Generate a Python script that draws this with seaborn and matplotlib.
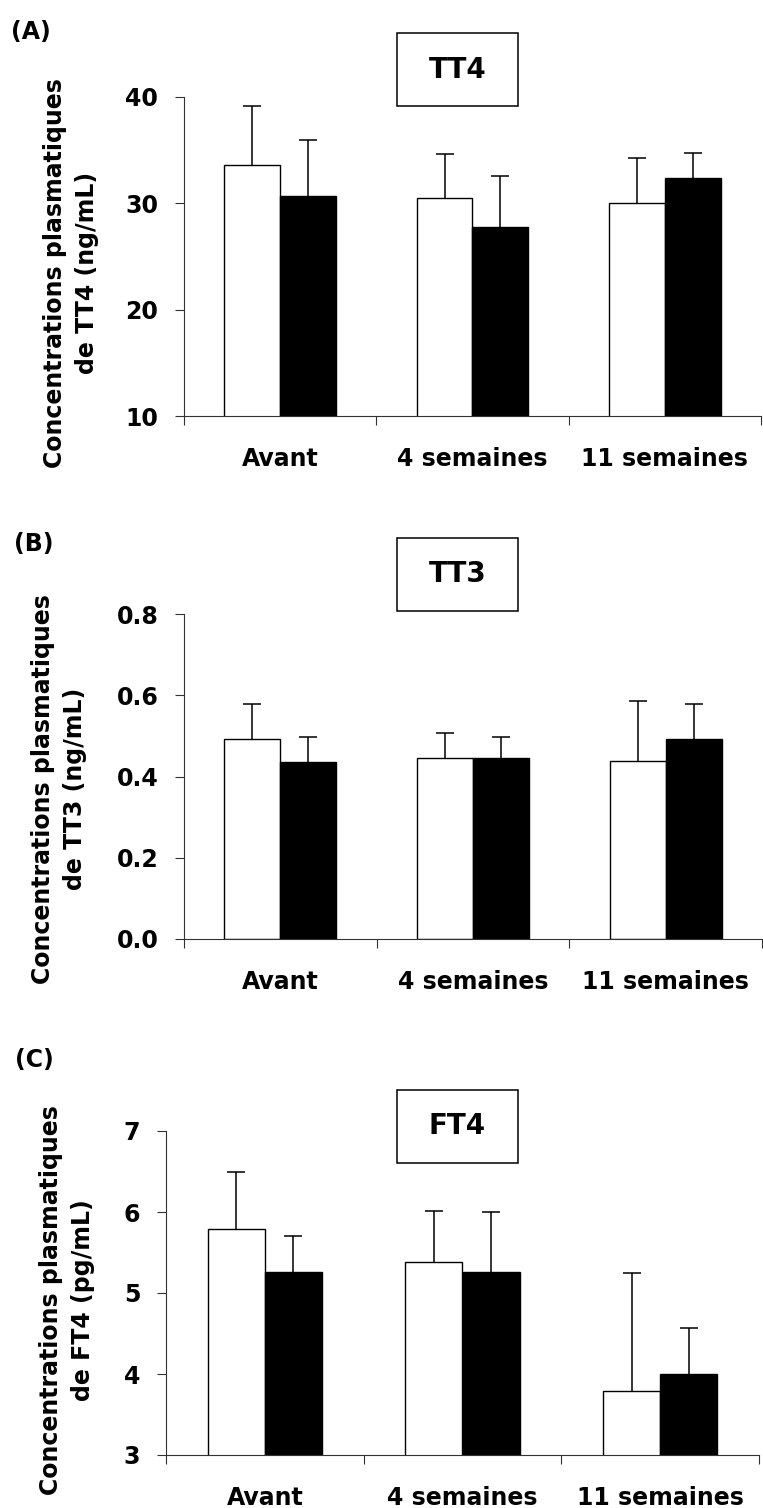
import numpy as np
import pandas as pd
import matplotlib
matplotlib.use("Agg")
import matplotlib.pyplot as plt
import seaborn as sns
from matplotlib.patches import Rectangle
from matplotlib.ticker import FixedLocator, FormatStrFormatter

# ---------------- data ----------------
periods = ["Avant", "4 semaines", "11 semaines"]
groups = ["Groupe 1", "Groupe 2"]

tt4_white = [33.6, 30.5, 30.0]
tt4_black = [30.7, 27.8, 32.4]
tt4_white_sd = [5.6, 4.1, 4.3]
tt4_black_sd = [5.3, 4.8, 2.35]

tt3_white = [0.492, 0.446, 0.438]
tt3_black = [0.436, 0.446, 0.492]
tt3_white_sd = [0.086, 0.062, 0.148]
tt3_black_sd = [0.061, 0.052, 0.086]

ft4_white = [5.79, 5.38, 3.79]
ft4_black = [5.26, 5.26, 4.00]
ft4_white_sd = [0.70, 0.63, 1.46]
ft4_black_sd = [0.44, 0.74, 0.57]

panel_letters = ["(A)", "(B)", "(C)"]
panel_titles = ["TT4", "TT3", "FT4"]
ylabels = ["Concentrations plasmatiques\nde TT4 (ng/mL)",
           "Concentrations plasmatiques\nde TT3 (ng/mL)",
           "Concentrations plasmatiques\nde FT4 (pg/mL)"]
yticks_list = [[10, 20, 30, 40], [0.0, 0.2, 0.4, 0.6, 0.8], [3, 4, 5, 6, 7]]
ylims = [(10, 40), (0, 0.8), (3, 7)]
yfmts = ["%d", "%.1f", "%d"]

# ---------------- style ----------------
sns.set_style("white")
plt.rcParams["font.family"] = ["DejaVu Sans"]
plt.rcParams["font.weight"] = "bold"
plt.rcParams["text.color"] = "black"
plt.rcParams["xtick.color"] = "black"
plt.rcParams["ytick.color"] = "black"
plt.rcParams["axes.labelcolor"] = "black"

W, H = 763, 1508
fig = plt.figure(figsize=(W / 100, H / 100), dpi=100)

def fx(px):
    return px / W

def fy(py):
    return 1 - py / H

# axes boxes in pixels: left, top, right, bottom
ax_boxes = [(184, 97, 761, 416), (184, 614, 762, 939), (166, 1131, 759, 1455)]
letter_pos = [(31, 32), (34, 544), (34, 1060)]
title_boxes = [(397, 33, 518, 106), (397, 538, 518, 611), (397, 1090, 518, 1163)]
ylabel_pos = [(71, 273), (59, 789), (67, 1300)]

data_sets = [
    (tt4_white, tt4_black, tt4_white_sd, tt4_black_sd),
    (tt3_white, tt3_black, tt3_white_sd, tt3_black_sd),
    (ft4_white, ft4_black, ft4_white_sd, ft4_black_sd),
]

spine_col = "#333333"
for i, (w, b, wsd, bsd) in enumerate(data_sets):
    l, t, r, btm = ax_boxes[i]
    ax = fig.add_axes([fx(l), fy(btm), (r - l) / W, (btm - t) / H])
    df = pd.DataFrame({
        "period": periods * 2,
        "group": [groups[0]] * 3 + [groups[1]] * 3,
        "value": list(w) + list(b),
        "sd": list(wsd) + list(bsd),
    })
    sns.barplot(data=df, x="period", y="value", hue="group", order=periods,
                hue_order=groups, palette=["white", "black"], edgecolor="black",
                linewidth=1.0, width=0.58, errorbar=None, legend=False, ax=ax)
    for gi, g in enumerate(groups):
        sub = df[df["group"] == g].set_index("period").loc[periods]
        cont = ax.containers[gi]
        xs = [p.get_x() + p.get_width() / 2 for p in cont]
        hs = [p.get_height() for p in cont]
        eb = ax.errorbar(xs, hs, yerr=[np.zeros(len(xs)), sub["sd"].values],
                         fmt="none", ecolor="black", elinewidth=1.1, capsize=6.5,
                         capthick=1.1, zorder=5)
        # keep only the upper caps
        caplines = eb[1]
        if len(caplines) == 2:
            caplines[0].set_visible(False)
    ax.set_xlim(-0.5, 2.5)
    ax.set_ylim(*ylims[i])
    ax.set_yticks(yticks_list[i])
    ax.yaxis.set_major_formatter(FormatStrFormatter(yfmts[i]))
    ax.xaxis.set_minor_locator(FixedLocator([-0.5, 0.5, 1.5, 2.5]))
    ax.tick_params(axis="x", which="major", length=0, pad=22, labelsize=17,
                   labelcolor="black")
    ax.tick_params(axis="x", which="minor", length=6.5, width=0.8,
                   color=spine_col, direction="out", bottom=True)
    ax.tick_params(axis="y", which="major", length=6.5, width=0.8,
                   color=spine_col, direction="out", pad=12, labelsize=17,
                   left=True, labelcolor="black")
    for lab in ax.get_xticklabels() + ax.get_yticklabels():
        lab.set_fontweight("bold")
    ax.set_xlabel("")
    ax.set_ylabel("")
    sns.despine(ax=ax)
    for s in ["left", "bottom"]:
        ax.spines[s].set_color(spine_col)
        ax.spines[s].set_linewidth(0.8)

    # y label (two lines)
    yx, yy = ylabel_pos[i]
    fig.text(fx(yx), fy(yy), ylabels[i], rotation=90, ha="center", va="center",
             multialignment="center", fontsize=17, fontweight="bold",
             linespacing=1.45, color="black")
    # panel letter
    lx, ly = letter_pos[i]
    fig.text(fx(lx), fy(ly), panel_letters[i], ha="center", va="center",
             fontsize=17, fontweight="bold", color="black")
    # title box
    bl, bt, br, bb = title_boxes[i]
    fig.patches.append(Rectangle((fx(bl), fy(bb)), (br - bl) / W, (bb - bt) / H,
                                 transform=fig.transFigure, facecolor="white",
                                 edgecolor="black", linewidth=1.1))
    fig.text(fx((bl + br) / 2), fy((bt + bb) / 2), panel_titles[i],
             ha="center", va="center", fontsize=20, fontweight="bold",
             color="black")

fig.savefig("out.png", dpi=100)
